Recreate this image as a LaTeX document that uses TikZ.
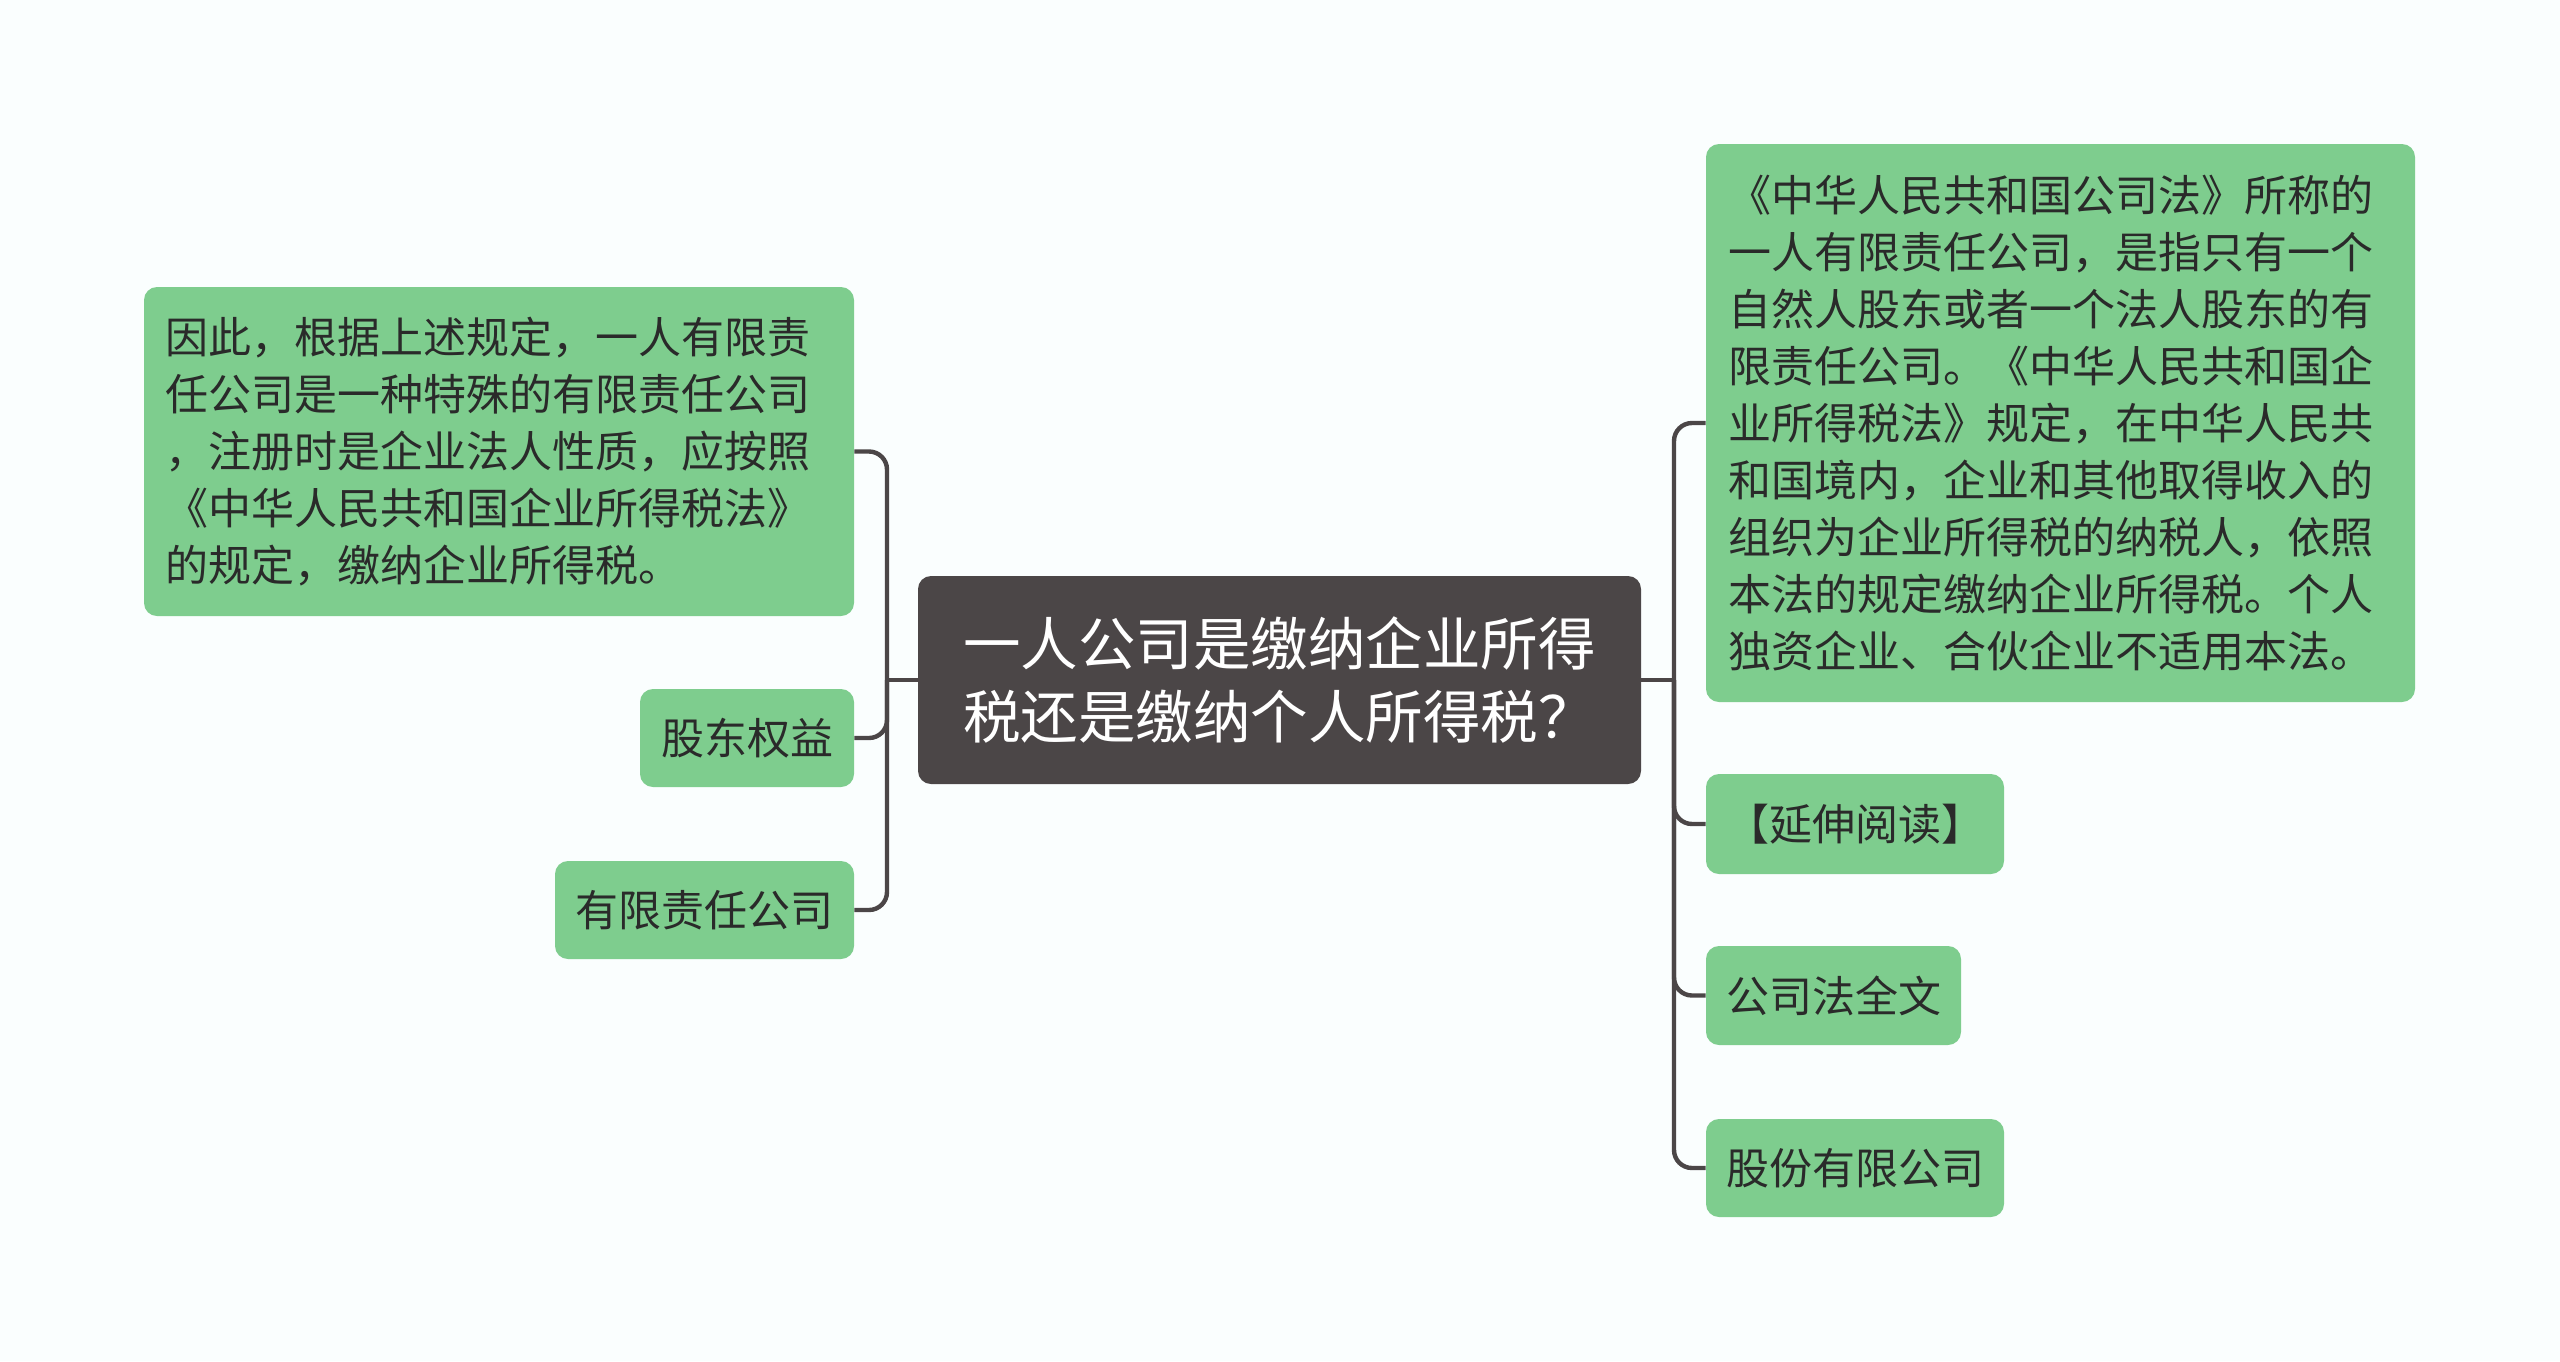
\documentclass[tikz,border=0pt]{standalone}
\usepackage{fontspec}
\setmainfont{Noto Sans CJK SC}
\definecolor{bgc}{HTML}{FAFEFE}
\definecolor{leafc}{HTML}{7ECD8E}
\definecolor{rootc}{HTML}{4B4647}
\definecolor{linec}{HTML}{4B4647}
\definecolor{txtc}{HTML}{2A2A2A}
\tikzset{
  leafbox/.style={draw=none, fill=leafc, rounded corners=6.5pt, inner sep=0pt},
  leaftext/.style={text=txtc, align=left, inner sep=0pt, font=\fontsize{21.5pt}{28.5pt}\selectfont},
  rootbox/.style={draw=none, fill=rootc, rounded corners=6.5pt, inner sep=0pt, text=white, align=left, font=\fontsize{28.75pt}{36.75pt}\selectfont},
  conn/.style={draw=linec, line width=2.2pt, rounded corners=9pt},
}
\begin{document}
\begin{tikzpicture}[x=0.5pt, y=-0.5pt]
\useasboundingbox[fill=bgc] (0,0) rectangle (2560,1361);

% root
\node[rootbox, minimum width=361.5pt, minimum height=104pt] (root) at (1279.5,680)
  {一人公司是缴纳企业所得\\税还是缴纳个人所得税？};

% left children
\node[leafbox, minimum width=355pt, minimum height=164.5pt] (A) at (499,451.5) {};
\node[leaftext, anchor=west] (At) at (165,451.5)
  {因此，根据上述规定，一人有限责\\任公司是一种特殊的有限责任公司\\，注册时是企业法人性质，应按照\\《中华人民共和国企业所得税法》\\的规定，缴纳企业所得税。};
\node[leafbox, leaftext, minimum width=107pt, minimum height=49pt] (B) at (747,738) {股东权益};
\node[leafbox, leaftext, minimum width=149.5pt, minimum height=49pt] (C) at (704.5,910) {有限责任公司};

% right children
\node[leafbox, minimum width=354.5pt, minimum height=279pt] (D) at (2060.5,423) {};
\node[leaftext, anchor=west] (Dt) at (1728,423)
  {《中华人民共和国公司法》所称的\\一人有限责任公司，是指只有一个\\自然人股东或者一个法人股东的有\\限责任公司。《中华人民共和国企\\业所得税法》规定，在中华人民共\\和国境内，企业和其他取得收入的\\组织为企业所得税的纳税人，依照\\本法的规定缴纳企业所得税。个人\\独资企业、合伙企业不适用本法。};
\node[leafbox, leaftext, minimum width=149pt, minimum height=50pt] (E) at (1855,824) {【延伸阅读】};
\node[leafbox, leaftext, minimum width=127.5pt, minimum height=49.5pt] (F) at (1833.5,995.5) {公司法全文};
\node[leafbox, leaftext, minimum width=149pt, minimum height=49pt] (G) at (1855,1168) {股份有限公司};

% junctions
\coordinate (lj) at (887,680);
\coordinate (rj) at (1674,680);

% connectors
\draw[conn] (root.west) -- (lj);
\draw[conn] (lj) |- (A.east);
\draw[conn] (lj) |- (B.east);
\draw[conn] (lj) |- (C.east);
\draw[conn] (root.east) -- (rj);
\draw[conn] (rj) |- (D.west);
\draw[conn] (rj) |- (E.west);
\draw[conn] (rj) |- (F.west);
\draw[conn] (rj) |- (G.west);
\end{tikzpicture}
\end{document}
